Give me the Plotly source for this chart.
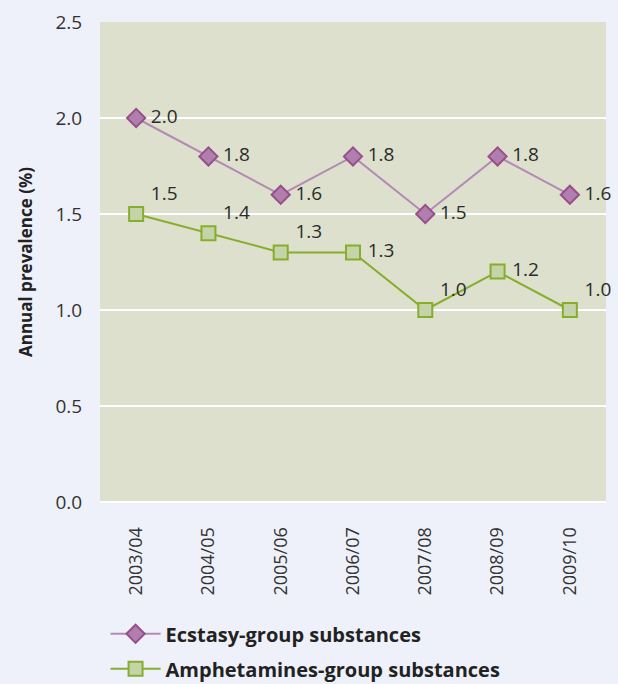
import plotly.graph_objects as go

years = ["2003/04", "2004/05", "2005/06", "2006/07", "2007/08", "2008/09", "2009/10"]
ecstasy = [2.0, 1.8, 1.6, 1.8, 1.5, 1.8, 1.6]
amphet = [1.5, 1.4, 1.3, 1.3, 1.0, 1.2, 1.0]
ecstasy_pos = ["middle right"] * 7
amphet_pos = ["top right", "top right", "top right", "middle right", "top right", "middle right", "top right"]

FONT = "Open Sans"

fig = go.Figure()
fig.add_trace(go.Scatter(
    x=years, y=ecstasy, mode="lines+markers+text",
    name="<b>Ecstasy-group substances</b>", legendgroup="e",
    text=[f" {v:.1f}" for v in ecstasy], textposition=ecstasy_pos,
    textfont=dict(size=19, color="#2b2b2b", family=FONT), cliponaxis=False,
    line=dict(color="#B48AB4", width=2),
    marker=dict(symbol="diamond", size=14, color="#B07FAD", line=dict(color="#994E8C", width=2)),
))
fig.add_trace(go.Scatter(
    x=years, y=amphet, mode="lines+markers+text",
    name="<b>Amphetamines-group substances</b>", legendgroup="a",
    text=[f" {v:.1f}" for v in amphet],
    textposition=amphet_pos,
    textfont=dict(size=19, color="#2b2b2b", family=FONT), cliponaxis=False,
    line=dict(color="#86AE2C", width=2),
    marker=dict(symbol="square", size=14, color="#C5D3A8", line=dict(color="#86AE2C", width=2)),
))

fig.update_layout(
    width=618, height=684,
    margin=dict(l=100, r=12, t=22, b=182, autoexpand=False),
    paper_bgcolor="#EEF1F9",
    plot_bgcolor="#DCE0CC",
    font=dict(family=FONT, color="#2b2b2b"),
    xaxis=dict(range=[-0.5, 6.5], tickangle=-90, showgrid=False, automargin=False,
               ticks="outside", ticklen=17, tickcolor="rgba(0,0,0,0)",
               tickfont=dict(size=18, color="#333"), fixedrange=True),
    yaxis=dict(range=[0, 2.5], dtick=0.5, tickformat=".1f", gridcolor="#FFFFFF", gridwidth=2,
               zeroline=True, zerolinecolor="#FFFFFF", zerolinewidth=2, automargin=False,
               ticks="outside", ticklen=13, tickcolor="rgba(0,0,0,0)",
               tickfont=dict(size=19, color="#333"), fixedrange=True,
               title=dict(text="<b>Annual prevalence (%)</b>", font=dict(size=17, color="#222"), standoff=18)),
    showlegend=True,
    legend=dict(x=0.011, y=-0.234, xanchor="left", yanchor="top", orientation="v",
                bgcolor="rgba(0,0,0,0)", font=dict(size=20, color="#222"),
                tracegroupgap=6, itemwidth=50),
)
fig.write_html("out.html", config={"displayModeBar": False},
               post_script="document.body.style.margin='0';document.body.style.overflow='hidden';")
